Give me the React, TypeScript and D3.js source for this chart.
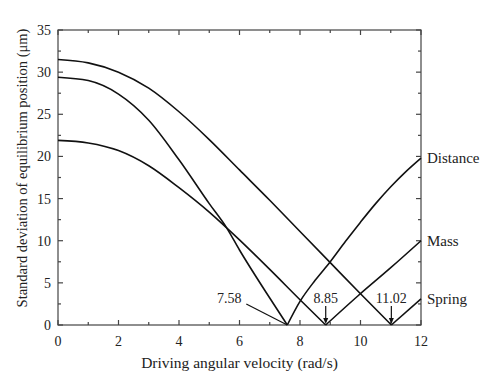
import React, { useEffect, useRef } from "react";
import * as d3 from "d3";

// angular velocity samples (rad/s) and std deviation (um)
const distanceX = [0, 1, 2, 3, 4, 5, 5.58, 6, 7, 7.58, 8, 8.5, 9, 9.5, 10, 10.5, 11, 11.5, 12];
const distanceY = [29.4, 29.0, 27.4, 24.3, 19.6, 14.4, 11.5, 8.9, 3.2, 0, 2.8, 5.3, 7.5, 9.9, 12.2, 14.4, 16.4, 18.2, 19.8];

const massX = [0, 1, 2, 3, 4, 5, 6, 7, 8, 8.85, 9.93, 11, 12];
const massY = [21.9, 21.6, 20.7, 18.9, 16.3, 13.4, 10.1, 6.6, 3.0, 0, 3.5, 6.8, 10.0];

const springX = [0, 1, 2, 3, 4, 5, 6, 7, 8, 9, 10, 11.02, 12];
const springY = [31.5, 31.1, 30.0, 28.1, 25.3, 22.0, 18.4, 14.8, 11.1, 7.4, 3.7, 0, 3.1];

const seriesNames = ["Distance", "Mass", "Spring"];
const resonances = [7.58, 8.85, 11.02];
const resonanceLabels = ["7.58", "8.85", "11.02"];

const xTicks = [0, 2, 4, 6, 8, 10, 12];
const yTicks = [0, 5, 10, 15, 20, 25, 30, 35];

export default function App() {
  const svgRef = useRef<SVGSVGElement>(null);

  useEffect(() => {
    const svg = d3.select(svgRef.current);
    svg.selectAll("*").remove();

    const width = 485;
    const height = 376;
    const left = 58, right = 421, top = 30, bottom = 325;
    const font = "'Liberation Serif', 'Times New Roman', serif";

    const x = d3.scaleLinear().domain([0, 12]).range([left, right]);
    const y = d3.scaleLinear().domain([0, 35]).range([bottom, top]);

    svg.attr("width", width).attr("height", height);

    // frame
    svg
      .append("rect")
      .attr("x", left)
      .attr("y", top)
      .attr("width", right - left)
      .attr("height", bottom - top)
      .attr("fill", "none")
      .attr("stroke", "#444")
      .attr("stroke-width", 1.2);

    const ticks = svg.append("g").attr("stroke", "#444").attr("stroke-width", 1.2);
    d3.range(0, 12.01, 1).forEach((v) => {
      const len = v % 2 === 0 ? 5 : 3;
      ticks.append("line").attr("x1", x(v)).attr("x2", x(v)).attr("y1", bottom).attr("y2", bottom - len);
      ticks.append("line").attr("x1", x(v)).attr("x2", x(v)).attr("y1", top).attr("y2", top + len);
    });
    d3.range(0, 35.01, 2.5).forEach((v) => {
      const len = v % 5 === 0 ? 5 : 3;
      ticks.append("line").attr("x1", left).attr("x2", left + len).attr("y1", y(v)).attr("y2", y(v));
      ticks.append("line").attr("x1", right).attr("x2", right - len).attr("y1", y(v)).attr("y2", y(v));
    });

    // tick labels
    svg
      .selectAll(".xt")
      .data(xTicks)
      .join("text")
      .attr("class", "xt")
      .attr("x", (d) => x(d))
      .attr("y", bottom + 21)
      .attr("text-anchor", "middle")
      .attr("font-family", font)
      .attr("font-size", 14)
      .attr("fill", "#222")
      .text((d) => d);

    svg
      .selectAll(".yt")
      .data(yTicks)
      .join("text")
      .attr("class", "yt")
      .attr("x", left - 7)
      .attr("y", (d) => y(d) + 5)
      .attr("text-anchor", "end")
      .attr("font-family", font)
      .attr("font-size", 14)
      .attr("fill", "#222")
      .text((d) => d);

    // axis titles
    svg
      .append("text")
      .attr("x", (left + right) / 2)
      .attr("y", 368)
      .attr("text-anchor", "middle")
      .attr("font-family", font)
      .attr("font-size", 15.5)
      .attr("fill", "#222")
      .text("Driving angular velocity (rad/s)");

    svg
      .append("text")
      .attr("transform", `translate(27,168) rotate(-90)`)
      .attr("text-anchor", "middle")
      .attr("font-family", font)
      .attr("font-size", 14.5)
      .attr("fill", "#222")
      .text("Standard deviation of equilibrium position (\u03bcm)");

    // curves: each split at its zero so the V stays sharp
    const lineGen = d3
      .line<[number, number]>()
      .x((d) => x(d[0]))
      .y((d) => y(d[1]))
      .curve(d3.curveMonotoneX);

    const series = [
      [distanceX, distanceY],
      [massX, massY],
      [springX, springY],
    ];

    series.forEach(([xs, ys], i) => {
      const pts: [number, number][] = xs.map((v, k) => [v, ys[k]]);
      const zi = ys.indexOf(0);
      [pts.slice(0, zi + 1), pts.slice(zi)].forEach((part) => {
        svg
          .append("path")
          .attr("d", lineGen(part))
          .attr("fill", "none")
          .attr("stroke", "#111")
          .attr("stroke-width", 1.6);
      });
      const last = pts[pts.length - 1];
      svg
        .append("text")
        .attr("x", x(last[0]) + 6)
        .attr("y", y(last[1]) + 5)
        .attr("font-family", font)
        .attr("font-size", 15)
        .attr("fill", "#222")
        .text(seriesNames[i]);
    });

    // resonance annotations
    const ann = svg.append("g").attr("font-family", font).attr("font-size", 14).attr("fill", "#222");
    // 7.58: text to the left with a slanted leader
    ann
      .append("text")
      .attr("x", x(resonances[0]) - 58)
      .attr("y", bottom - 22)
      .attr("text-anchor", "middle")
      .text(resonanceLabels[0]);
    ann
      .append("line")
      .attr("x1", x(resonances[0]) - 41)
      .attr("y1", bottom - 21)
      .attr("x2", x(resonances[0]))
      .attr("y2", bottom)
      .attr("stroke", "#111")
      .attr("stroke-width", 1.2);

    [1, 2].forEach((i) => {
      const cx = x(resonances[i]);
      ann
        .append("text")
        .attr("x", cx)
        .attr("y", bottom - 22)
        .attr("text-anchor", "middle")
        .text(resonanceLabels[i]);
      ann
        .append("line")
        .attr("x1", cx)
        .attr("x2", cx)
        .attr("y1", bottom - 19)
        .attr("y2", bottom - 3)
        .attr("stroke", "#111")
        .attr("stroke-width", 1.2);
      ann
        .append("path")
        .attr("d", `M${cx - 2.5},${bottom - 7} L${cx},${bottom - 1} L${cx + 2.5},${bottom - 7} Z`)
        .attr("fill", "#111");
    });
  }, []);

  return (
    <div style={{ position: "absolute", left: 0, top: 0 }}>
      <svg ref={svgRef} />
    </div>
  );
}
